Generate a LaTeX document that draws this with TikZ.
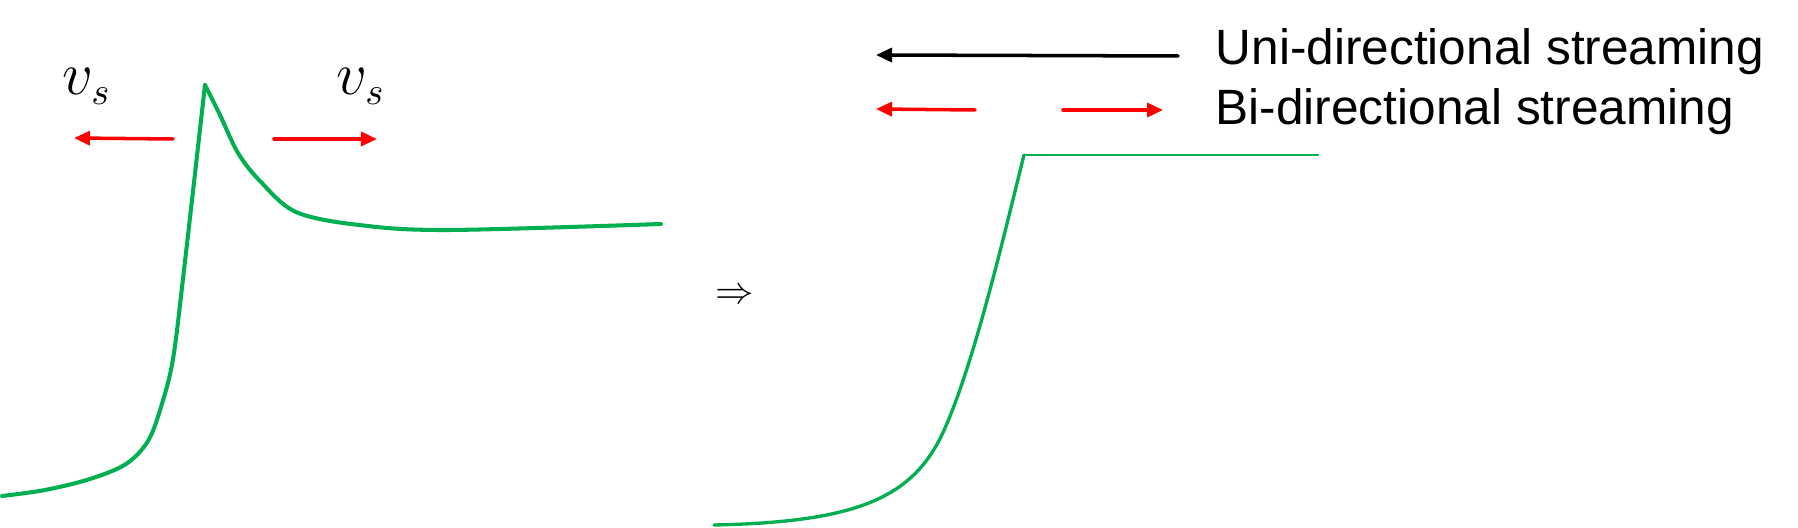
\documentclass[tikz,border=0pt]{standalone}
\usepackage{fontspec}
\setmainfont{Liberation Sans}
\usetikzlibrary{arrows.meta}
\definecolor{shockgreen}{RGB}{0,176,80}
\begin{document}
\begin{tikzpicture}[x = 0.01cm, y = -0.01cm,
        every node/.style={inner sep=0pt, font=\fontsize{14.1}{17}\selectfont},
        profile/.style={shockgreen, line width=1.15pt, line cap=round, line join=round},
        stream/.style={-{Triangle[length=0.16cm, width=0.14cm]}, line width=1pt, line cap=round}
]
    \useasboundingbox (0,0) rectangle (1798,528);
    % profile with the peak
    \draw[profile] plot[smooth, tension=0.55] coordinates {(2,496) (45,490) (90,479) (126,464) (148,441) (161,407) (173,359) (184,270) (205,85)};
    \draw[profile] plot[smooth, tension=0.55] coordinates {(205,85) (220,115) (238,153) (260,181) (296,212) (359,225) (448,230) (661,224)};
    % flattened profile
    \draw[profile, line width=0.95pt] (714,525) .. controls (860,522) and (915,497) .. (945,428)
        .. controls (975,360) and (1004,235) .. (1024,155);
    \draw[profile, line width=0.6pt] (1024,155) -- (1318,155);

    \node[font=\fontsize{16}{19}\selectfont, anchor=base west] (vl) at (62,95) {$v_s$};
    \node[font=\fontsize{16}{19}\selectfont, anchor=base west] (vr) at (336,95) {$v_s$};
    \node[font=\fontsize{11}{13}\selectfont] (imp) at (735,296) {$\Rightarrow$};
    \node[anchor=base west] (uni) at (1215,65) {Uni-directional streaming};
    \node[anchor=base west] (bi) at (1215,125) {Bi-directional streaming};

    \coordinate (la) at (173,139);
    \coordinate (lb) at (74,138);
    \coordinate (ra) at (274,139);
    \coordinate (rb) at (377,139);
    \coordinate (ua) at (1178,56);
    \coordinate (ub) at (876,55);
    \coordinate (ba) at (975,110);
    \coordinate (bb) at (876,109);
    \coordinate (bc) at (1063,110);
    \coordinate (bd) at (1163,110);
\begin{scope}[every path/.style={stream}]
    \draw[red] (la) -- (lb);
    \draw[red] (ra) -- (rb);
    \draw[black] (ua) -- (ub);
    \draw[red] (ba) -- (bb);
    \draw[red] (bc) -- (bd);
\end{scope}

\end{tikzpicture}
\end{document}
